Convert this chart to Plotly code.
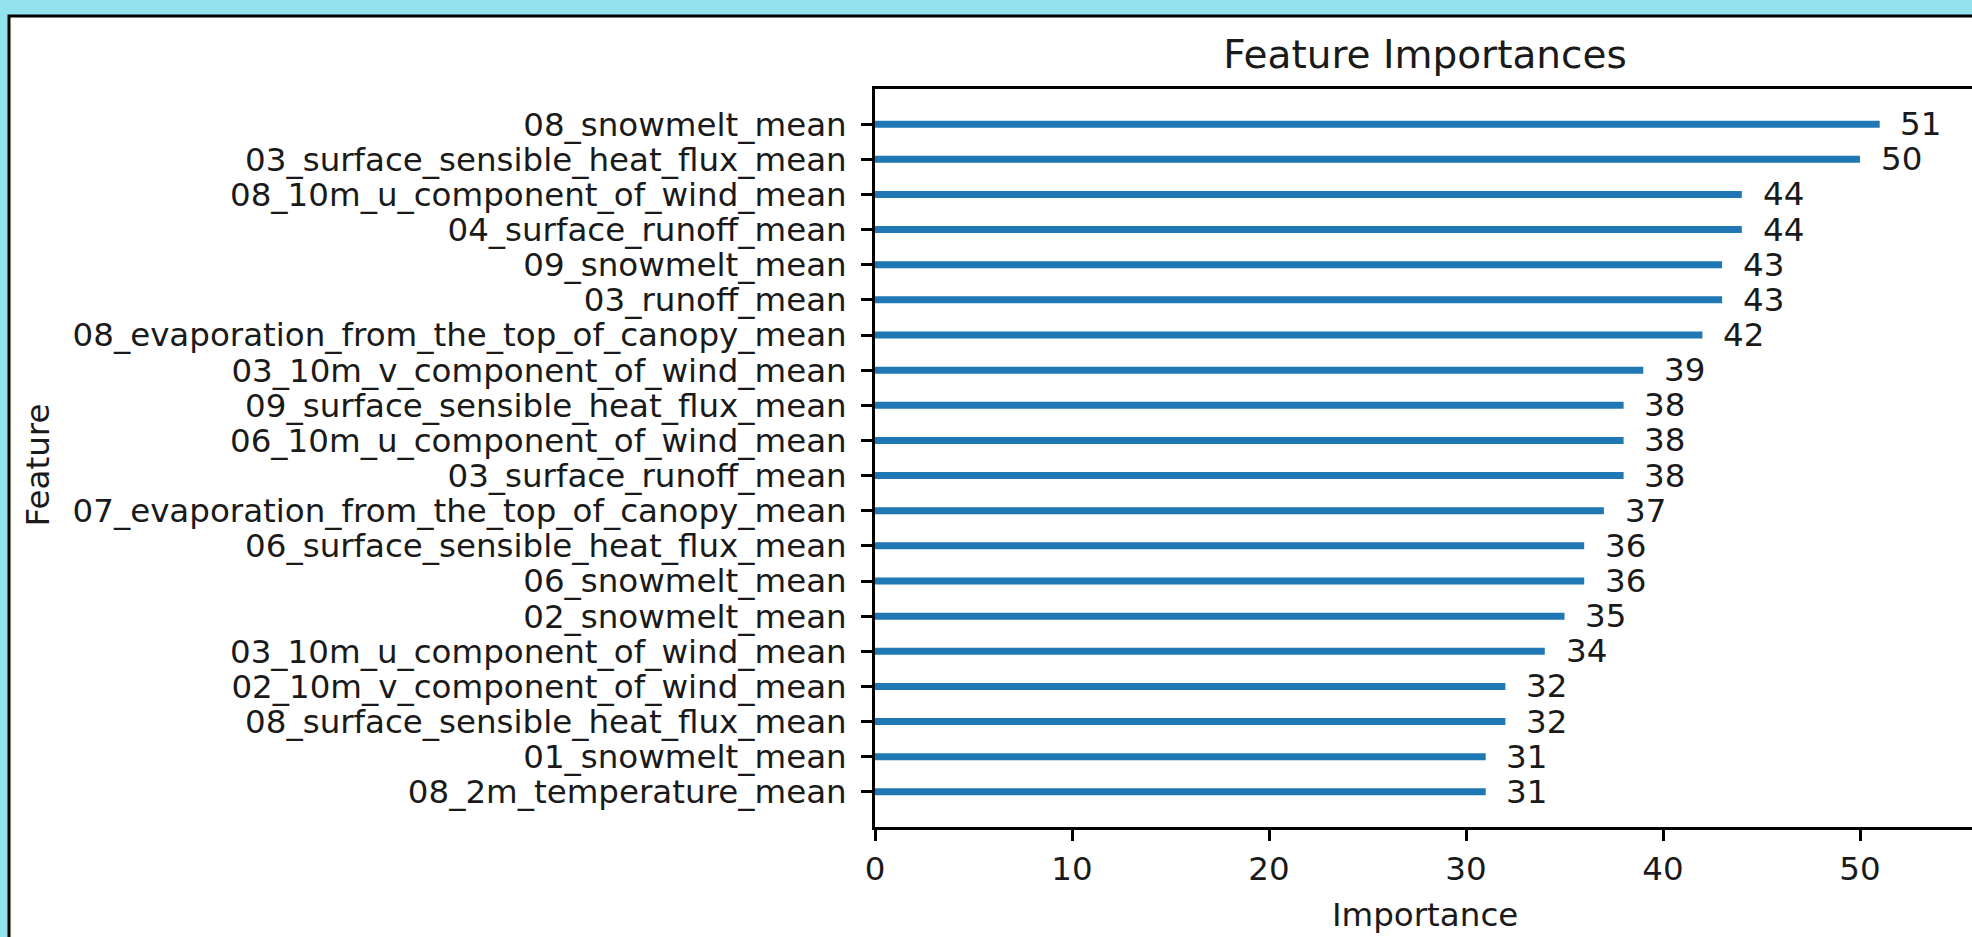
import plotly.graph_objects as go

# Data (top to bottom as shown in the chart)
features = [
    "08_snowmelt_mean",
    "03_surface_sensible_heat_flux_mean",
    "08_10m_u_component_of_wind_mean",
    "04_surface_runoff_mean",
    "09_snowmelt_mean",
    "03_runoff_mean",
    "08_evaporation_from_the_top_of_canopy_mean",
    "03_10m_v_component_of_wind_mean",
    "09_surface_sensible_heat_flux_mean",
    "06_10m_u_component_of_wind_mean",
    "03_surface_runoff_mean",
    "07_evaporation_from_the_top_of_canopy_mean",
    "06_surface_sensible_heat_flux_mean",
    "06_snowmelt_mean",
    "02_snowmelt_mean",
    "03_10m_u_component_of_wind_mean",
    "02_10m_v_component_of_wind_mean",
    "08_surface_sensible_heat_flux_mean",
    "01_snowmelt_mean",
    "08_2m_temperature_mean",
]
importances = [51, 50, 44, 44, 43, 43, 42, 39, 38, 38, 38, 37, 36, 36, 35, 34, 32, 32, 31, 31]
x_ticks = [0, 10, 20, 30, 40, 50]

# matplotlib/lightgbm order: bottom first
feat_b = features[::-1]
imp_b = importances[::-1]
pos = list(range(len(feat_b)))

W, H = 1972, 937
L, R, T, B = 875, 0, 89, 110
pw = W - L - R
ph = H - T - B

def px_x(px):
    return (px - L) / pw

def px_y(py):
    return (H - B - py) / ph

FONT = "DejaVu Sans"
FS = 32.5
TXT = "#1a1a1a"
BLUE = "#1f77b4"

fig = go.Figure()
fig.add_trace(go.Bar(
    x=imp_b, y=pos, orientation="h", width=0.2,
    marker=dict(color=BLUE, line=dict(width=0)),
    hoverinfo="x+y",
))

annotations = []
for p, v in zip(pos, imp_b):
    annotations.append(dict(
        x=v + 1, y=p, xref="x", yref="y", text=str(v), showarrow=False,
        xanchor="left", yanchor="middle", font=dict(family=FONT, size=FS, color=TXT),
        borderpad=0,
    ))

# axis titles
annotations.append(dict(
    x=0.5014, y=px_y(894), xref="paper", yref="paper", text="Importance", showarrow=False,
    xanchor="center", yanchor="top", font=dict(family=FONT, size=FS, color=TXT),
))
annotations.append(dict(
    x=px_x(17), y=0.49, xref="paper", yref="paper", text="Feature", showarrow=False,
    xanchor="left", yanchor="middle", textangle=-90, font=dict(family=FONT, size=FS, color=TXT),
))

shapes = [dict(
    type="rect", xref="paper", yref="paper", layer="below",
    x0=px_x(9), x1=px_x(2000), y0=px_y(960), y1=px_y(16),
    fillcolor="white", line=dict(color="black", width=3),
)]

fig.update_layout(
    width=W, height=H,
    margin=dict(l=L, r=R, t=T, b=B, pad=0),
    paper_bgcolor="#93E3EF",
    plot_bgcolor="white",
    showlegend=False,
    title=dict(
        text="Feature Importances", x=0.5014, xref="paper", xanchor="center",
        y=1 - 54 / H, yref="container", yanchor="middle",
        font=dict(family=FONT, size=39, color=TXT),
    ),
    xaxis=dict(
        range=[0, pw / 19.7], tickvals=x_ticks, ticks="outside", ticklen=11, tickwidth=2.6,
        tickcolor="black", showline=True, linecolor="black", linewidth=2.6, mirror=True,
        showgrid=False, zeroline=False, tickfont=dict(family=FONT, size=FS, color=TXT),
    ),
    yaxis=dict(
        range=[-1, 20], tickvals=pos, ticktext=feat_b, ticks="outside", ticklen=11, tickwidth=2.6,
        tickcolor="black", showline=True, linecolor="black", linewidth=2.6, mirror=False,
        showgrid=False, zeroline=False, tickfont=dict(family=FONT, size=FS, color=TXT),
        ticklabelstandoff=8,
    ),
    annotations=annotations,
    shapes=shapes,
)

fig.write_html(
    "out.html",
    config={"displayModeBar": False},
    post_script="document.body.style.margin='0';document.body.style.overflow='hidden';",
)
